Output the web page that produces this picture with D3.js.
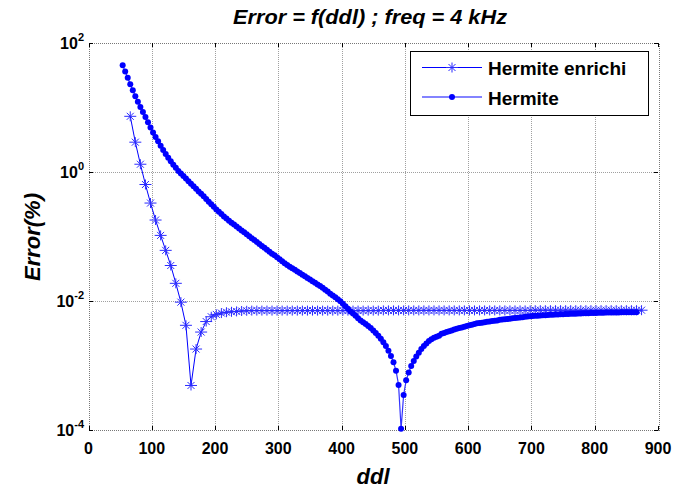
<!DOCTYPE html>
<html>
<head>
<meta charset="utf-8">
<script src="https://cdn.jsdelivr.net/npm/d3@7"></script>
<style>
body{margin:0;background:#fff;}
text{font-family:"Liberation Sans",Arial,sans-serif;font-weight:bold;fill:#000;}
</style>
</head>
<body>
<svg id="chart" width="690" height="488"></svg>
<script>
// tick values
var xTicks = [0,100,200,300,400,500,600,700,800,900];
var yTicks = [1e-4,1e-2,1e0,1e2];
var yTickExp = ["-4","-2","0","2"];

// Hermite enrichi (stars)
var enrichiX = [66,74,82,90,98,106,114,122,130,138,
  146,154,162,170,178,186,194,202,210,218,
  226,234,242,250,258,266,274,282,290,298,
  306,314,322,330,338,346,354,362,370,378,
  386,394,402,410,418,426,434,442,450,458,
  466,474,482,490,498,506,514,522,530,538,
  546,554,562,570,578,586,594,602,610,618,
  626,634,642,650,658,666,674,682,690,698,
  706,714,722,730,738,746,754,762,770,778,
  786,794,802,810,818,826,834,842,850,858,
  866,874];
var enrichiErr = [7.3,2.9,1.32,0.64,0.33,0.18,0.104,0.061,0.0355,0.0188,
  0.0096,0.0042,0.00049,0.0018,0.0033,0.0048,0.0057,0.0062,0.0065,0.0067,
  0.0068,0.0069,0.007,0.00705,0.0071,0.0071,0.0071,0.0071,0.0071,0.0071,
  0.0071,0.0071,0.0071,0.0071,0.0071,0.0071,0.0071,0.0071,0.0071,0.0071,
  0.0071,0.0071,0.0071,0.0071,0.0071,0.0071,0.0071,0.0071,0.0071,0.0071,
  0.00715,0.00715,0.00715,0.00715,0.00715,0.00715,0.00715,0.00715,0.00715,0.00715,
  0.00715,0.00715,0.00715,0.00715,0.00715,0.00715,0.00715,0.00715,0.00715,0.00715,
  0.00715,0.00715,0.00715,0.00715,0.00715,0.00715,0.00715,0.00715,0.00715,0.00715,
  0.0072,0.0072,0.0072,0.0072,0.0072,0.0072,0.0072,0.0072,0.0072,0.0072,
  0.0072,0.0072,0.0072,0.0072,0.0072,0.0072,0.0072,0.0072,0.0072,0.0072,
  0.0072,0.0072];

// Hermite (dots)
var hermiteX = [54,58,62,66,70,74,78,82,86,90,
  94,98,102,106,110,114,118,122,126,130,
  134,138,142,146,150,154,158,162,166,170,
  174,178,182,186,190,194,198,202,206,210,
  214,218,222,226,230,234,238,242,246,250,
  254,258,262,266,270,274,278,282,286,290,
  294,298,302,306,310,314,318,322,326,330,
  334,338,342,346,350,354,358,362,366,370,
  374,378,382,386,390,394,398,402,406,410,
  414,418,422,426,430,434,438,442,446,450,
  454,458,462,466,470,474,478,482,486,490,
  494,498,502,506,510,514,518,522,526,530,
  534,538,542,546,550,554,558,562,566,570,
  574,578,582,586,590,594,598,602,606,610,
  614,618,622,626,630,634,638,642,646,650,
  654,658,662,666,670,674,678,682,686,690,
  694,698,702,706,710,714,718,722,726,730,
  734,738,742,746,750,754,758,762,766,770,
  774,778,782,786,790,794,798,802,806,810,
  814,818,822,826,830,834,838,842,846,850,
  854,858,862,866];
var hermiteErr = [45,36,29,23,18.5,15,12.3,10.2,8.5,7.1,
  5.9,4.9,4.1,3.5,3.0,2.55,2.2,1.9,1.66,1.47,
  1.3,1.16,1.04,0.95,0.87,0.79,0.72,0.66,0.60,0.55,
  0.50,0.46,0.42,0.38,0.345,0.316,0.288,0.263,0.241,0.223,
  0.205,0.19,0.176,0.164,0.153,0.143,0.133,0.124,0.116,0.108,
  0.101,0.094,0.088,0.082,0.0765,0.0715,0.067,0.0625,0.058,0.054,
  0.051,0.0475,0.0443,0.0413,0.0385,0.0361,0.0341,0.0322,0.0304,0.0287,
  0.0271,0.0256,0.0241,0.0228,0.0215,0.0203,0.0192,0.0181,0.0171,0.0161,
  0.015,0.014,0.013,0.0122,0.0114,0.0106,0.0099,0.0091,0.0083,0.0076,
  0.0069,0.0064,0.0059,0.0054,0.005,0.0047,0.0044,0.0041,0.0038,0.0035,
  0.0032,0.0029,0.0026,0.0023,0.002,0.0017,0.0014,0.00112,0.00083,0.0005,
  0.000105,0.00035,0.00059,0.00078,0.00098,0.00117,0.00138,0.00158,0.0018,0.002,
  0.0022,0.0024,0.00255,0.0027,0.0028,0.0029,0.0031,0.0032,0.0033,0.0034,
  0.0035,0.0036,0.0037,0.0038,0.0039,0.004,0.0041,0.0042,0.0043,0.0044,
  0.0045,0.00455,0.0046,0.0047,0.00475,0.0048,0.0049,0.00495,0.005,0.0051,
  0.00515,0.0052,0.00525,0.0053,0.0054,0.00545,0.0055,0.00555,0.0056,0.0057,
  0.00575,0.0058,0.00585,0.0059,0.00592,0.00595,0.006,0.00602,0.00605,0.0061,
  0.00612,0.00615,0.0062,0.00622,0.00625,0.00628,0.0063,0.00632,0.00635,0.00637,
  0.0064,0.00642,0.00644,0.00646,0.00648,0.0065,0.00652,0.00654,0.00656,0.00658,
  0.0066,0.00661,0.00662,0.00663,0.00664,0.00665,0.00666,0.00667,0.00668,0.00669,
  0.0067,0.0067,0.00671,0.00672];

var legendNames = ["Hermite enrichi","Hermite"];

var svg = d3.select("#chart");
var plotL = 88.5, plotR = 658, plotT = 43, plotB = 430;

var x = d3.scaleLinear().domain([0,900]).range([plotL,plotR]);
var y = d3.scaleLog().domain([1e-4,1e2]).range([plotB,plotT]);

var enrichi = enrichiX.map(function(d,i){ return {x:d, e:enrichiErr[i]}; });
var hermite = hermiteX.map(function(d,i){ return {x:d, e:hermiteErr[i]}; });

// star marker like matlab '*'
var STAR = "M-6,0H6M0,-5V5M-3.5,-3.5L3.5,3.5M-3.5,3.5L3.5,-3.5";

svg.append("rect").attr("x",0).attr("y",0).attr("width",690).attr("height",488).attr("fill","#fff");

// grid
var grid = svg.append("g").attr("stroke","#a0a0a0").attr("stroke-dasharray","1,1")
  .attr("shape-rendering","crispEdges");
grid.selectAll(".gx").data(xTicks.slice(1,-1)).enter().append("line")
  .attr("x1",function(d){return Math.round(x(d))+0.5;}).attr("x2",function(d){return Math.round(x(d))+0.5;})
  .attr("y1",plotT).attr("y2",plotB);
grid.selectAll(".gy").data(yTicks.slice(1,-1)).enter().append("line")
  .attr("y1",function(d){return Math.round(y(d))+0.5;}).attr("y2",function(d){return Math.round(y(d))+0.5;})
  .attr("x1",plotL).attr("x2",plotR);

// box
svg.append("rect").attr("x",Math.round(plotL)+0.5).attr("y",plotT+0.5)
  .attr("width",Math.round(plotR-plotL)).attr("height",plotB-plotT)
  .attr("fill","none").attr("stroke","#777").attr("stroke-dasharray","1,1")
  .attr("shape-rendering","crispEdges");

// ticks (inward, all four sides)
var ticks = svg.append("g").attr("stroke","#000").attr("shape-rendering","crispEdges");
xTicks.forEach(function(t){
  var px = Math.round(x(t))+0.5;
  ticks.append("line").attr("x1",px).attr("x2",px).attr("y1",plotB).attr("y2",plotB-4);
  ticks.append("line").attr("x1",px).attr("x2",px).attr("y1",plotT).attr("y2",plotT+4);
});
yTicks.forEach(function(t){
  var py = Math.round(y(t))+0.5;
  ticks.append("line").attr("x1",plotL).attr("x2",plotL+4).attr("y1",py).attr("y2",py);
  ticks.append("line").attr("x1",plotR).attr("x2",plotR-4).attr("y1",py).attr("y2",py);
});

// tick labels
svg.append("g").selectAll("text").data(xTicks).enter().append("text")
  .attr("x",function(d){return x(d);}).attr("y",plotB+24)
  .attr("text-anchor","middle").attr("font-size",16).text(function(d){return d;});

var yl = svg.append("g").selectAll("text").data(yTicks).enter().append("text")
  .attr("x",84).attr("y",function(d){return y(d)+6;})
  .attr("text-anchor","end").attr("font-size",16);
yl.append("tspan").text("10");
yl.append("tspan").attr("dy",-8).attr("font-size",11).text(function(d,i){return yTickExp[i];});

// Hermite enrichi
var line = d3.line().x(function(d){return x(d.x);}).y(function(d){return y(d.e);});
svg.append("path").datum(enrichi).attr("d",line).attr("fill","none")
  .attr("stroke","#0000ff").attr("stroke-width",1);
svg.append("g").selectAll("path").data(enrichi).enter().append("path")
  .attr("d",STAR).attr("transform",function(d){return "translate("+x(d.x)+","+y(d.e)+")";})
  .attr("fill","none").attr("stroke","#2b2bff").attr("stroke-width",1);

// Hermite
svg.append("path").datum(hermite).attr("d",line).attr("fill","none")
  .attr("stroke","#3333ff").attr("stroke-width",1.2);
svg.append("g").selectAll("circle").data(hermite).enter().append("circle")
  .attr("cx",function(d){return x(d.x);}).attr("cy",function(d){return y(d.e);})
  .attr("r",3).attr("fill","#0000ff");

// legend
var lg = svg.append("g");
lg.append("rect").attr("x",410.5).attr("y",51.5).attr("width",238).attr("height",64)
  .attr("fill","#fff").attr("stroke","#000").attr("stroke-width",1);
lg.append("line").attr("x1",422).attr("x2",482).attr("y1",67.5).attr("y2",67.5)
  .attr("stroke","#0000ff").attr("stroke-width",1);
lg.append("path").attr("d",STAR).attr("transform","translate(452,67.5)")
  .attr("fill","none").attr("stroke","#2b2bff");
lg.append("line").attr("x1",422).attr("x2",482).attr("y1",97).attr("y2",97)
  .attr("stroke","#5a5aff").attr("stroke-width",1.6);
lg.append("circle").attr("cx",452).attr("cy",97).attr("r",3).attr("fill","#0000ff");
lg.selectAll("text").data(legendNames).enter().append("text")
  .attr("x",488).attr("y",function(d,i){return 75+i*30;})
  .attr("font-size",19).text(function(d){return d;});

// title and axis labels
svg.append("text").attr("x",370).attr("y",24).attr("text-anchor","middle")
  .attr("font-size",21).attr("font-style","italic")
  .attr("textLength",274).attr("lengthAdjust","spacingAndGlyphs")
  .text("Error = f(ddl) ; freq = 4 kHz");
svg.append("text").attr("x",373).attr("y",484).attr("text-anchor","middle")
  .attr("font-size",22).attr("font-style","italic").text("ddl");
svg.append("text").attr("transform","translate(40,237) rotate(-90)").attr("text-anchor","middle")
  .attr("font-size",22).attr("font-style","italic").text("Error(%)");
</script>
</body>
</html>
